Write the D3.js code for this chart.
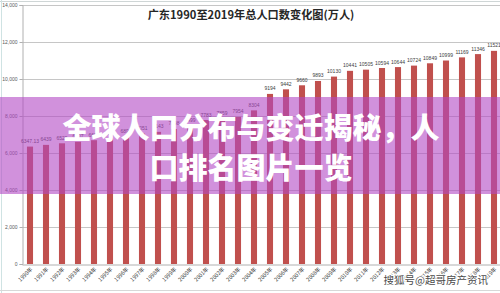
<!DOCTYPE html>
<html><head><meta charset="utf-8">
<script src="https://cdn.jsdelivr.net/npm/d3@7/dist/d3.min.js"></script>
<style>html,body{margin:0;padding:0;background:#fff;overflow:hidden}</style>
</head><body>
<script>
const years = ["1990","1991","1992","1993","1994","1995","1996","1997","1998","1999","2000","2001","2002","2003","2004","2005","2006","2007","2008","2009","2010","2011","2012","2013","2014","2015","2016","2017","2018","2019"];
const population = [6347.13,6439,6525,6607,6692,6789,6896,7051,7143,7298,7499,7783,7859,7954,8304,9194,9442,9660,9893,10130,10441,10505,10594,10644,10724,10849,10999,11169,11346,11521];
const valueLabels = ["6347.13","6439","6525","6607","6692","6789","6896","7051","7143","7298","7499","7783","7859","7954","8304","9194","9442","9660","9893","10130","10441","10505","10594","10644","10724","10849","10999","11169","11346","11521"];
const yTicks = [0,2000,4000,6000,8000,10000,12000,14000];
const title = "广东1990至2019年总人口数变化图(万人)";
const overlayLines = ["全球人口分布与变迁揭秘，人","口排名图片一览"];
const watermark = "搜狐号@超哥房产资讯";

const W = 500, H = 293;
const svg = d3.select("body").append("svg").attr("width", W).attr("height", H);

const x = d3.scaleBand().domain(years).range([22, 502]).paddingInner(0.62).paddingOuter(0.31);
const y = d3.scaleLinear().domain([0, 14000]).range([264, 5]);

// frame bits
svg.append("line").attr("x1",0).attr("x2",W).attr("y1",1.5).attr("y2",1.5).attr("stroke","#cfd6d6").attr("stroke-width",1);
svg.append("line").attr("x1",1.5).attr("x2",1.5).attr("y1",0).attr("y2",H).attr("stroke","#cfe3e3").attr("stroke-width",1);
svg.append("line").attr("x1",0).attr("x2",W).attr("y1",290.5).attr("y2",290.5).attr("stroke","#d8d8d8").attr("stroke-width",1);

// gridlines
svg.append("g").selectAll("line").data(yTicks.filter(d=>d>0)).join("line")
  .attr("x1",22).attr("x2",W).attr("y1",d=>Math.round(y(d))+0.5).attr("y2",d=>Math.round(y(d))+0.5)
  .attr("stroke","#c6c6c6").attr("stroke-width",1);

// y axis
const yAxis = svg.append("g").attr("transform","translate(22.5,0)")
  .call(d3.axisLeft(y).tickValues(yTicks).tickSize(3).tickPadding(2));
yAxis.select(".domain").attr("stroke","#b0b0b0");
yAxis.selectAll(".tick line").attr("stroke","#b0b0b0");
yAxis.selectAll("text").attr("font-family","Liberation Sans, Arial, sans-serif").attr("font-size",5).attr("fill","#595959");

// x axis
const xAxis = svg.append("g").attr("transform","translate(0,264.5)")
  .call(d3.axisBottom(x).tickSize(0).tickFormat(d=>d+"年"));
xAxis.select(".domain").attr("stroke","#b0b0b0");
xAxis.selectAll("text")
  .attr("font-family","Noto Sans CJK SC, sans-serif").attr("font-size",5.5).attr("fill","#404040")
  .attr("text-anchor","end").attr("dy",0).attr("y",0)
  .attr("transform","translate(3,5) rotate(-45)");

// bars
svg.append("g").selectAll("rect").data(years).join("rect")
  .attr("x",(d)=>x(d)).attr("width",x.bandwidth())
  .attr("y",(d,i)=>y(population[i])).attr("height",(d,i)=>264-y(population[i]))
  .attr("fill","#c0504d");

// value labels
svg.append("g").selectAll("text").data(years).join("text")
  .attr("x",d=>x(d)+x.bandwidth()/2).attr("y",(d,i)=>y(population[i])-3.5)
  .attr("text-anchor","middle").attr("font-family","Liberation Sans, Arial, sans-serif")
  .attr("font-size",5).attr("fill","#404040")
  .text((d,i)=>valueLabels[i]);

// title
svg.append("text").attr("x",251).attr("y",19).attr("text-anchor","middle")
  .attr("font-family","Noto Sans CJK SC, sans-serif").attr("font-weight","bold")
  .attr("font-size",11.2).attr("fill","#262626").text(title);

// overlay band
svg.append("rect").attr("x",0).attr("y",97).attr("width",W).attr("height",97)
  .attr("fill","rgb(178,72,196)").attr("fill-opacity",0.6);

svg.append("g").selectAll("text").data(overlayLines).join("text")
  .attr("x",251).attr("y",(d,i)=>139+i*40).attr("text-anchor","middle")
  .attr("font-family","Noto Sans CJK SC, sans-serif").attr("font-weight",900)
  .attr("font-size",29).attr("fill","#ffffff")
  .text(d=>d);

// watermark
svg.append("text").attr("x",488).attr("y",284).attr("text-anchor","end")
  .attr("font-family","Noto Sans CJK SC, sans-serif").attr("font-size",10.5)
  .attr("fill","#4a4a4a").attr("stroke","#ffffff").attr("stroke-width",2)
  .attr("paint-order","stroke").text(watermark);
</script>
</body></html>
